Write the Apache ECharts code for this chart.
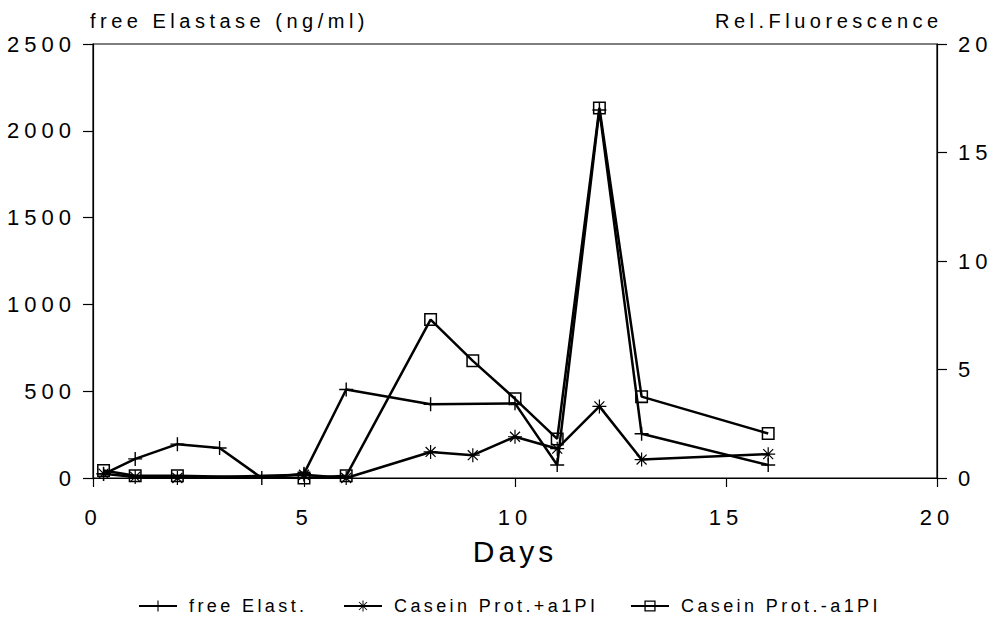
<!DOCTYPE html>
<html><head><meta charset="utf-8">
<script src="https://cdn.jsdelivr.net/npm/echarts@6/dist/echarts.min.js"></script>
<style>
html,body{margin:0;padding:0;background:#fff;}
#chart{width:996px;height:628px;}
#chart svg text{letter-spacing:4px;}
#chart svg text[style*="18px"]{letter-spacing:3.4px;}
#chart svg text[style*="20px"]{letter-spacing:4.5px;}
#chart svg text[style*="22px"]{letter-spacing:5px;}
#chart svg text[style*="30px"]{letter-spacing:4px;}
</style></head><body><div id="chart"></div>
<script>
// Days of measurement
const freeDays = [0.25, 1, 2, 3, 4, 5, 6, 8, 10, 11, 12, 13, 16];
const caseinDays = [0.25, 1, 2, 5, 6, 8, 9, 10, 11, 12, 13, 16];
// free Elastase (ng/ml) - left axis
const freeElastase = [23, 110, 195, 173, 0, 25, 510, 425, 430, 75, 2120, 255, 75];
// Relative fluorescence - right axis
const caseinPlusA1PI = [0.2, 0.05, 0, 0.15, 0, 1.2, 1.05, 1.9, 1.35, 3.3, 0.85, 1.1];
const caseinMinusA1PI = [0.35, 0.1, 0.1, 0, 0.1, 7.3, 5.4, 3.65, 1.8, 17.05, 3.75, 2.05];
// axis ticks
const xTicks = {min: 0, max: 20, interval: 5};
const leftTicks = {min: 0, max: 2500, interval: 500};
const rightTicks = {min: 0, max: 20, interval: 5};
const seriesNames = ['free Elast.', 'Casein Prot.+a1PI', 'Casein Prot.-a1PI'];

const FONT = 'Liberation Sans';
const plusPath = 'path://M0,6.3H14V7.7H0Z M6.3,0H7.7V14H6.3Z';
const starPath = 'path://M0,6.4H14V7.6H0Z M6.4,0H7.6V14H6.4Z M2.45,1.6L12.4,11.55L11.55,12.4L1.6,2.45Z M11.55,1.6L12.4,2.45L2.45,12.4L1.6,11.55Z';
const squarePath = 'path://M0,0H12V12H0Z M1.4,1.4V10.6H10.6V1.4Z';

const pairs = (xs, ys) => xs.map((x, i) => [x, ys[i]]);
const plain = v => String(v);

const chart = echarts.init(document.getElementById('chart'), null, {renderer: 'svg', width: 996, height: 628});

const legendBase = {
  orient: 'horizontal', top: 592, itemWidth: 38, itemHeight: 14, itemGap: 10,
  textStyle: {fontSize: 18, color: '#000', fontFamily: FONT, padding: [0, 0, 0, 7]}
};

chart.setOption({
  animation: false,
  backgroundColor: '#fff',
  textStyle: {fontFamily: FONT, color: '#000'},
  title: [
    {text: 'free Elastase (ng/ml)', left: 85, top: 6,
     textStyle: {fontSize: 20, fontWeight: 'normal', color: '#000', fontFamily: FONT}},
    {text: 'Rel.Fluorescence', left: 710, top: 6,
     textStyle: {fontSize: 20, fontWeight: 'normal', color: '#000', fontFamily: FONT}}
  ],
  grid: {left: 93, right: 59, top: 44, bottom: 150, show: true, borderColor: '#000', borderWidth: 1.2, backgroundColor: 'transparent'},
  legend: [
    Object.assign({}, legendBase, {left: 133, data: [seriesNames[0]]}),
    Object.assign({}, legendBase, {left: 338, data: [seriesNames[1]]}),
    Object.assign({}, legendBase, {left: 625, data: [seriesNames[2]]})
  ],
  xAxis: {
    type: 'value', min: xTicks.min, max: xTicks.max, interval: xTicks.interval,
    name: 'Days', nameLocation: 'middle', nameGap: 58,
    nameTextStyle: {fontSize: 30, color: '#000', fontFamily: FONT},
    axisLine: {show: true, lineStyle: {color: '#000', width: 1.2}},
    axisTick: {show: true, length: 9, lineStyle: {color: '#000', width: 1.2}},
    axisLabel: {fontSize: 22, color: '#000', margin: 28, fontFamily: FONT, formatter: plain},
    splitLine: {show: false}
  },
  yAxis: [
    {
      type: 'value', position: 'left', min: leftTicks.min, max: leftTicks.max, interval: leftTicks.interval,
      axisLine: {show: true, lineStyle: {color: '#000', width: 1.2}},
      axisTick: {show: true, length: 10, lineStyle: {color: '#000', width: 1.2}},
      axisLabel: {fontSize: 22, color: '#000', margin: 17, fontFamily: FONT, formatter: plain},
      splitLine: {show: false}
    },
    {
      type: 'value', position: 'right', min: rightTicks.min, max: rightTicks.max, interval: rightTicks.interval,
      axisLine: {show: true, lineStyle: {color: '#000', width: 1.2}},
      axisTick: {show: true, length: 10, lineStyle: {color: '#000', width: 1.2}},
      axisLabel: {fontSize: 22, color: '#000', margin: 21, fontFamily: FONT, formatter: plain},
      splitLine: {show: false}
    }
  ],
  series: [
    {name: seriesNames[0], type: 'line', yAxisIndex: 0, data: pairs(freeDays, freeElastase),
     symbol: plusPath, symbolSize: 14, showAllSymbol: true,
     lineStyle: {color: '#000', width: 2.5}, itemStyle: {color: '#000'}},
    {name: seriesNames[1], type: 'line', yAxisIndex: 1, data: pairs(caseinDays, caseinPlusA1PI),
     symbol: starPath, symbolSize: 14, showAllSymbol: true,
     lineStyle: {color: '#000', width: 2.5}, itemStyle: {color: '#000'}},
    {name: seriesNames[2], type: 'line', yAxisIndex: 1, data: pairs(caseinDays, caseinMinusA1PI),
     symbol: squarePath, symbolSize: 13, showAllSymbol: true,
     lineStyle: {color: '#000', width: 2.5}, itemStyle: {color: '#000'}}
  ]
});
</script></body></html>
